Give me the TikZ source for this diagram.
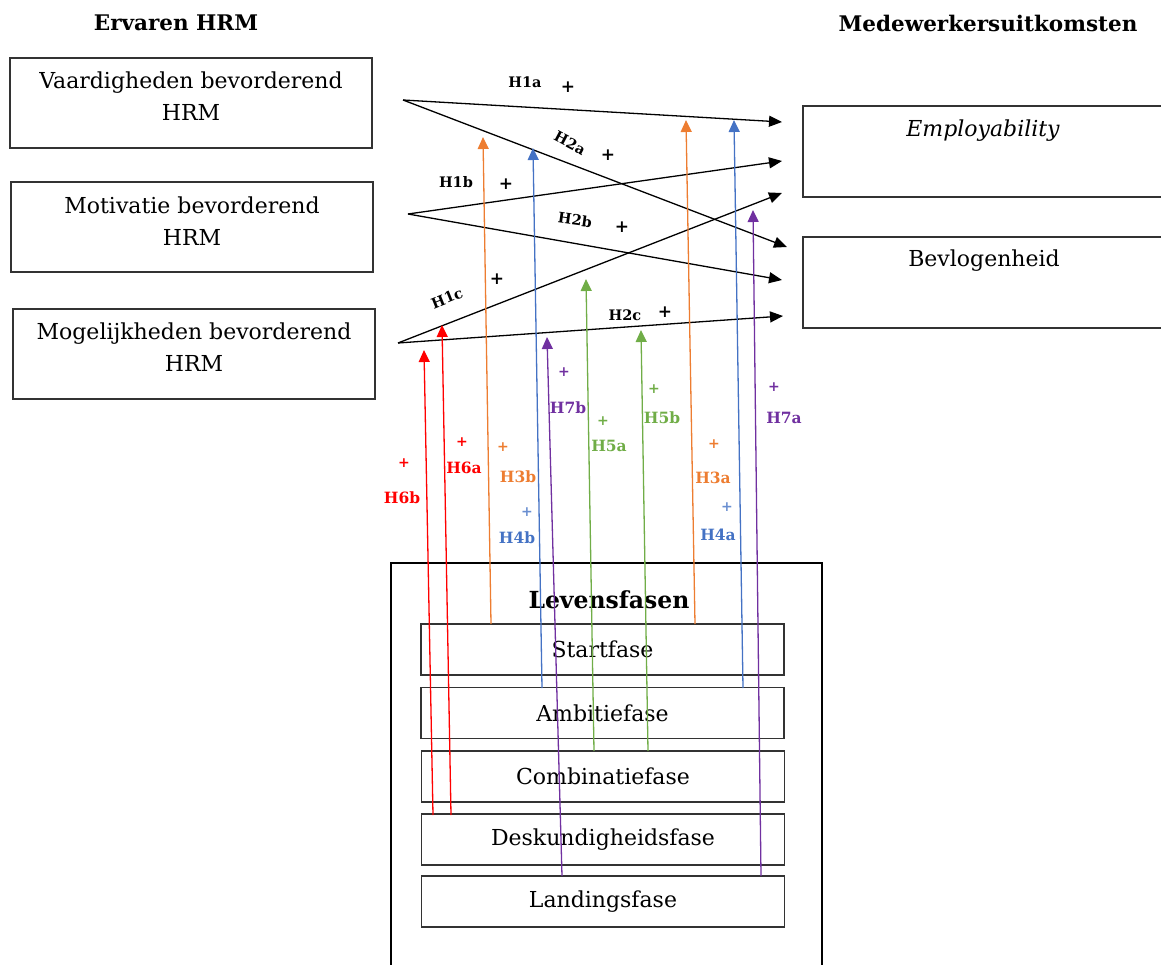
\documentclass[tikz,border=0pt]{standalone}
\usepackage{fontspec}
\setmainfont{DejaVu Serif}
\usetikzlibrary{arrows.meta}
\definecolor{cred}{HTML}{FF0000}
\definecolor{corange}{HTML}{ED7D31}
\definecolor{cblue}{HTML}{4472C4}
\definecolor{cgreen}{HTML}{70AD47}
\definecolor{cpurple}{HTML}{7030A0}
\begin{document}
\begin{tikzpicture}[x=1pt,y=-1pt,
 every node/.style={inner sep=0pt, outer sep=0pt},
 box/.style={draw=black!80, line width=1.1pt},
 bigtxt/.style={font=\fontsize{22}{32}\selectfont, align=center},
 hdr/.style={font=\fontsize{21.5}{26}\selectfont\bfseries},
 hlab/.style={font=\fontsize{14.5}{16}\selectfont\bfseries},
 plus/.style={font=\fontsize{17}{18}\selectfont\bfseries},
 cplus/.style={font=\fontsize{14}{15}\selectfont\bfseries},
 clab/.style={font=\fontsize{15.5}{18}\selectfont\bfseries},
 blk/.style={line width=1.3pt, -{Triangle[length=13pt,width=11pt]}},
 col/.style={line width=1.3pt, draw=#1, -{Triangle[length=12pt,width=11pt]}}]
\useasboundingbox (0,0) rectangle (1161,965);
\clip (0,0) rectangle (1161,965);

% headers
\node[hdr] (hl) at (176,23) {Ervaren HRM};
\node[hdr] (hr) at (988,23) {Medewerkersuitkomsten};

% left boxes
\node[box, minimum width=362pt, minimum height=90pt] (b1) at (191,103) {};
\node[bigtxt] (t1) at (191,96) {Vaardigheden bevorderend\\HRM};
\node[box, minimum width=362pt, minimum height=90pt] (b2) at (192,227) {};
\node[bigtxt] (t2) at (192,221) {Motivatie bevorderend\\HRM};
\node[box, minimum width=362pt, minimum height=90pt] (b3) at (194,354) {};
\node[bigtxt] (t3) at (194,347) {Mogelijkheden bevorderend\\HRM};

% right boxes
\node[box, minimum width=397pt, minimum height=91pt] (emp) at (1001.5,151.5) {};
\node[bigtxt] (temp) at (983,131) {\itshape Employability};
\node[box, minimum width=397pt, minimum height=91pt] (bev) at (1001.5,282.5) {};
\node[bigtxt] (tbev) at (984,261) {Bevlogenheid};

% life phases
\node[draw=black, line width=2.5pt, minimum width=431pt, minimum height=447pt] (lev) at (606.5,786.5) {};
\node[bigtxt, font=\fontsize{23.5}{32}\selectfont\bfseries] (tlev) at (609,600) {Levensfasen};
\node[box, bigtxt, minimum width=363pt, minimum height=51pt] (f1) at (602.5,649.5) {Startfase};
\node[box, bigtxt, minimum width=363pt, minimum height=51pt] (f2) at (602.5,713) {Ambitiefase};
\node[box, bigtxt, minimum width=363pt, minimum height=51pt] (f3) at (603,776.5) {Combinatiefase};
\node[box, bigtxt, minimum width=363pt, minimum height=51pt] (f4) at (603,839.5) {Deskundigheidsfase};
\node[box, bigtxt, minimum width=363pt, minimum height=51pt] (f5) at (603,901.5) {Landingsfase};

% black arrows
\coordinate (s1) at (403,100);
\coordinate (s2) at (408,214);
\coordinate (s3) at (398,343);
\coordinate (e1a) at (782,122);
\coordinate (e2a) at (787,247);
\coordinate (e1b) at (782,161);
\coordinate (e2b) at (782,280);
\coordinate (e1c) at (782,193);
\coordinate (e2c) at (783,316);
\draw[blk] (s1) -- (e1a);
\draw[blk] (s1) -- (e2a);
\draw[blk] (s2) -- (e1b);
\draw[blk] (s2) -- (e2b);
\draw[blk] (s3) -- (e1c);
\draw[blk] (s3) -- (e2c);

\node[hlab] (l1a) at (525,82) {H1a};
\node[plus] (p1a) at (568,87) {+};
\node[hlab, rotate=-28] (l2a) at (570,143) {H2a};
\node[plus] (p2a) at (608,155) {+};
\node[hlab] (l1b) at (456,182) {H1b};
\node[plus] (p1b) at (506,184) {+};
\node[hlab, rotate=-8] (l2b) at (575,220) {H2b};
\node[plus] (p2b) at (622,227) {+};
\node[plus] (p1c) at (497,279) {+};
\node[hlab, rotate=22] (l1c) at (447,298) {H1c};
\node[hlab] (l2c) at (625,315) {H2c};
\node[plus] (p2c) at (665,312) {+};

% coloured arrows
\coordinate (r1s) at (433,815); \coordinate (r1e) at (424,350);
\coordinate (r2s) at (451,815); \coordinate (r2e) at (442,325);
\coordinate (o1s) at (491,624); \coordinate (o1e) at (483,137);
\coordinate (bl1s) at (542,688); \coordinate (bl1e) at (533,148);
\coordinate (pu1s) at (562,876); \coordinate (pu1e) at (547,337);
\coordinate (g1s) at (594,751); \coordinate (g1e) at (586,279);
\coordinate (g2s) at (648,751); \coordinate (g2e) at (641,330);
\coordinate (o2s) at (695,624); \coordinate (o2e) at (686,120);
\coordinate (bl2s) at (743,688); \coordinate (bl2e) at (734,120);
\coordinate (pu2s) at (761,876); \coordinate (pu2e) at (753,210);
\draw[col=cred] (r1s) -- (r1e);
\draw[col=cred] (r2s) -- (r2e);
\draw[col=corange] (o1s) -- (o1e);
\draw[col=cblue] (bl1s) -- (bl1e);
\draw[col=cpurple] (pu1s) -- (pu1e);
\draw[col=cgreen] (g1s) -- (g1e);
\draw[col=cgreen] (g2s) -- (g2e);
\draw[col=corange] (o2s) -- (o2e);
\draw[col=cblue] (bl2s) -- (bl2e);
\draw[col=cpurple] (pu2s) -- (pu2e);

% coloured labels
\node[cplus, text=cred] (q6b) at (404,463) {+};
\node[clab, text=cred] (h6b) at (402,498) {H6b};
\node[cplus, text=cred] (q6a) at (462,442) {+};
\node[clab, text=cred] (h6a) at (464,468) {H6a};
\node[cplus, text=corange] (q3b) at (503,447) {+};
\node[clab, text=corange] (h3b) at (518,477) {H3b};
\node[cplus, text=cblue!80] (q4b) at (527,512) {+};
\node[clab, text=cblue] (h4b) at (517,538) {H4b};
\node[cplus, text=cpurple] (q7b) at (564,372) {+};
\node[clab, text=cpurple] (h7b) at (568,408) {H7b};
\node[cplus, text=cgreen] (q5a) at (603,421) {+};
\node[clab, text=cgreen] (h5a) at (609,446) {H5a};
\node[cplus, text=cgreen] (q5b) at (654,389) {+};
\node[clab, text=cgreen] (h5b) at (662,418) {H5b};
\node[cplus, text=corange] (q3a) at (714,444) {+};
\node[clab, text=corange] (h3a) at (713,478) {H3a};
\node[cplus, text=cblue!80] (q4a) at (727,507) {+};
\node[clab, text=cblue] (h4a) at (718,535) {H4a};
\node[cplus, text=cpurple] (q7a) at (774,387) {+};
\node[clab, text=cpurple] (h7a) at (784,418) {H7a};
\end{tikzpicture}
\end{document}
